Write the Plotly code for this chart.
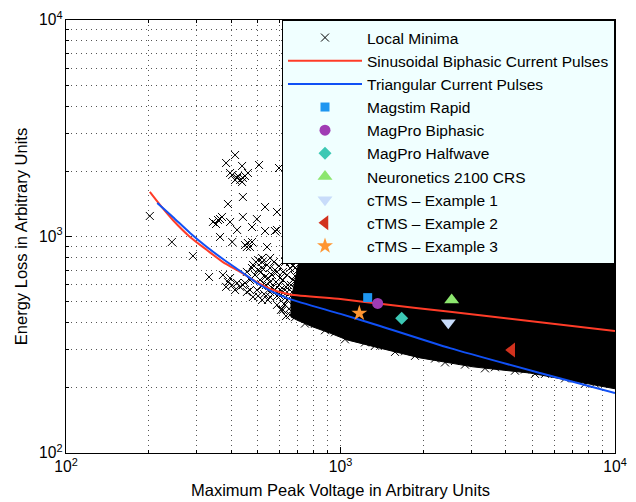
import plotly.graph_objects as go

# ---------------- data ----------------
# Individually visible local minima (voltage, energy loss)
minima_v = [202, 243, 290, 332, 413, 383, 438, 505, 597,
            403, 420, 431, 441, 449, 460, 413, 438, 396, 423,
            441, 389, 531, 587, 358, 343, 370, 352, 364,
            441, 396, 496, 420, 364, 476, 531, 577, 587, 403,
            449, 460, 468, 476, 456, 540,
            501, 518, 540, 554, 577, 518, 563, 587, 602, 531, 617, 554, 597, 633, 577, 617, 501, 480,
            373, 389, 403, 420, 431, 396, 413, 441, 383,
            456, 480, 554, 617, 518, 587, 628, 655, 602,
            671, 655, 683, 639,
            628, 655, 617, 644, 666, 628, 602, 582, 563, 535, 509, 488, 513, 544, 572,
            597, 623, 649, 677, 689, 607, 554, 527, 496, 468, 456, 476, 492, 518, 554,
            639, 660, 683, 671, 694, 633,
            700, 689, 706, 639, 587, 544, 501, 468, 449, 518,
            683, 742, 807, 878, 955, 1038, 1129, 1228, 1335, 1453, 1580, 1718, 1868, 2031,
            2210, 2403, 2613, 2841, 3090, 3360, 3654, 3974, 4321, 4699, 5111, 5559, 6045,
            6574, 7150, 7776, 8455, 9196]
minima_e = [1244, 943, 813, 650, 2379, 2185, 2117, 2140, 2072,
            1923, 1863, 1824, 1863, 1903, 1965, 1824, 1785, 1965, 1903,
            1522, 1413, 1369, 1298, 1192, 1167, 1231, 1142, 1204,
            1231, 1167, 1204, 1072, 995, 1106, 1060, 1060, 1072, 943,
            913, 933, 894, 943, 894, 894,
            779, 762, 739, 715, 700, 715, 664, 686, 643, 650, 630, 616, 597, 585, 566, 554, 700, 739,
            664, 616, 597, 610, 585, 643, 566, 597, 585,
            554, 526, 526, 458, 509, 483, 483, 434, 531,
            630, 762, 715, 664,
            762, 715, 686, 597, 554, 520, 566, 616, 578, 597, 630, 664, 686, 643, 762,
            731, 488, 463, 509, 448, 458, 554, 542, 566, 630, 686, 715, 762, 796, 796,
            509, 597, 657, 731, 478, 429,
            700, 616, 554, 554, 531, 509, 531, 566, 610, 591,
            424, 396, 395, 369, 361, 335, 344, 324, 313, 314, 293, 295, 281, 287,
            273, 262, 266, 256, 260, 246, 249, 254, 240, 243, 232, 232, 232,
            221, 221, 209, 209, 211]

# Envelope of the region where the local minima overlap into solid black
cloud_v = [712, 10000, 10000, 7031, 4900, 3039, 1948, 1393, 1056, 916, 794, 694, 660, 660, 683, 705]
cloud_e = [866, 866, 198, 215, 234, 250, 275, 305, 333, 358, 382, 411, 425, 509, 630, 762]

# Sinusoidal biphasic current pulses
sin_v = [202, 220, 245, 283, 326, 373, 431, 496, 568, 655, 1000, 1393, 2506, 5333, 10000]
sin_e = [1606, 1399, 1192, 995, 866, 762, 686, 616, 566, 540, 514, 489, 449, 402, 366]

# Triangular current pulses
tri_v = [215, 245, 283, 326, 373, 431, 496, 568, 655, 1000, 1393, 2506, 5333, 10000]
tri_e = [1428, 1231, 1038, 894, 787, 693, 610, 554, 514, 439, 386, 305, 234, 189]

# Devices
dev_names = ["Magstim Rapid", "MagPro Biphasic", "MagPro Halfwave", "Neuronetics 2100 CRS",
             "cTMS \u2013 Example 1", "cTMS \u2013 Example 2", "cTMS \u2013 Example 3"]
dev_v = [1256, 1366, 1671, 2541, 2470, 4205, 1171]
dev_e = [522, 491, 419, 509, 400, 299, 442]
dev_symbols = ["square", "circle", "diamond", "triangle-up", "triangle-down", "triangle-left", "star"]
dev_sizes = [9, 11, 10, 13, 13, 13, 12]
dev_colors = ["#1E96F0", "#A03CB4", "#3CC8B4", "#8CE66E", "#C8DCFA", "#D2321E", "#FF9632"]

FONT = "Liberation Sans, Arial, Helvetica, sans-serif"

fig = go.Figure()

fig.add_trace(go.Scatter(x=minima_v, y=minima_e, mode="markers", name="Local Minima",
                         marker=dict(symbol="x-thin", size=8, color="black",
                                     line=dict(width=1, color="black"))))
fig.add_trace(go.Scatter(x=cloud_v, y=cloud_e, mode="lines", fill="toself",
                         fillcolor="black", line=dict(width=1, color="black"),
                         showlegend=False, hoverinfo="skip"))
fig.add_trace(go.Scatter(x=sin_v, y=sin_e, mode="lines", name="Sinusoidal Biphasic Current Pulses",
                         line=dict(color="#FF3C28", width=2, shape="spline", smoothing=0.6)))
fig.add_trace(go.Scatter(x=tri_v, y=tri_e, mode="lines", name="Triangular Current Pulses",
                         line=dict(color="#1050F5", width=2, shape="spline", smoothing=0.6)))
for n, v, e, s, sz, c in zip(dev_names, dev_v, dev_e, dev_symbols, dev_sizes, dev_colors):
    fig.add_trace(go.Scatter(x=[v], y=[e], mode="markers", name=n,
                             marker=dict(symbol=s, size=sz, color=c, line=dict(width=0))))

grid_common = dict(showgrid=True, gridcolor="#555555", gridwidth=1, griddash="1px,4px")

axis_common = dict(type="log", dtick=1, exponentformat="power", automargin=False,
                   ticks="inside", ticklen=6, tickcolor="black",
                   showline=True, linecolor="black", linewidth=1, mirror="ticks",
                   zeroline=False, tickfont=dict(family=FONT, size=12.5, color="black"),
                   minor=dict(dtick="D1", ticks="inside", ticklen=3, tickcolor="black",
                              **grid_common),
                   **grid_common)

# the page body adds an 8 px offset, so the figure is 8 px smaller on each side
fig.update_layout(
    width=628, height=494,
    margin=dict(l=58, r=21, t=12, b=49),
    paper_bgcolor="white", plot_bgcolor="white",
    font=dict(family=FONT, color="black"),
    xaxis=dict(range=[2, 4],
               title=dict(text="Maximum Peak Voltage in Arbitrary Units",
                          font=dict(family=FONT, size=16.5), standoff=10),
               **axis_common),
    yaxis=dict(range=[2, 4],
               title=dict(text="Energy Loss in Arbitrary Units",
                          font=dict(family=FONT, size=16.5), standoff=7),
               **axis_common),
    legend=dict(x=1, y=1, xanchor="right", yanchor="top",
                bgcolor="#F0FFFF", bordercolor="black", borderwidth=1,
                font=dict(family=FONT, size=15.5, color="black"),
                itemwidth=74, tracegroupgap=0),
    showlegend=True,
)

fig.write_html("out.html")
